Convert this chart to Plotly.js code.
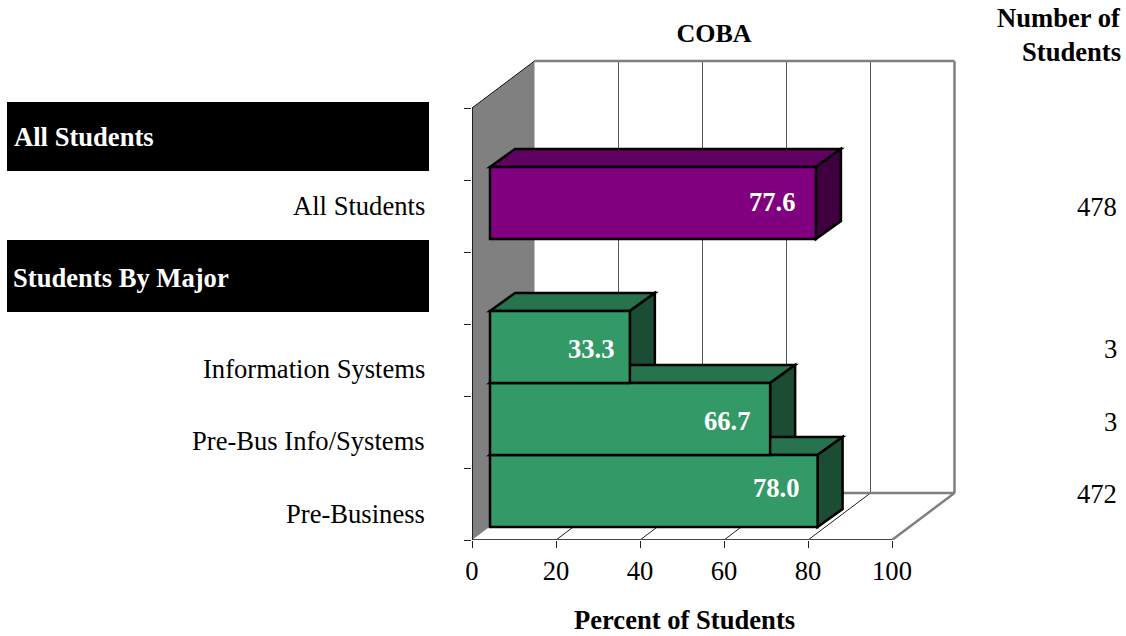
<!DOCTYPE html>
<html>
<head>
<meta charset="utf-8">
<script src="https://cdn.plot.ly/plotly-3.0.1.min.js"></script>
<style>html,body{margin:0;padding:0;background:#fff}#chart{width:1126px;height:636px}</style>
</head>
<body>
<div id="chart"></div>
<script>
// ---- data (rows run bottom to top; null = header row with no bar) ----
const rows = ["Pre-Business", "Pre-Bus Info/Systems", "Information Systems", "Students By Major", "All Students", "All Students"];
const percents = [78.0, 66.7, 33.3, null, 77.6, null];
const students = [472, 3, 3, null, 478, null];
const xTicks = [0, 20, 40, 60, 80, 100];

// ---- styles ----
const FONT = "Liberation Serif, Times New Roman, serif";
const SIZE = 26.6;
const GREEN = {front: "#339966", top: "#26734d", side: "#1a4d33"};
const PURPLE = {front: "#800080", top: "#600060", side: "#400040"};
const palette = [GREEN, GREEN, GREEN, null, PURPLE, null];

// ---- geometry ----
const W = 1126, H = 636;
const L = 472, R = 960, T = 55, B = 540;
const XU = 4.2, YU = 72;             // pixels per data unit
const xMax = (R - L) / XU, yMax = (B - T) / YU;
const wallDX = 62.5 / XU, wallDY = 47 / YU;  // whole chart depth
const barDX0 = 18 / XU, barDY0 = 13 / YU;    // bar offset from the front plane
const barDX = 25 / XU, barDY = 18 / YU;      // bar depth
const px = p => (p - L) / (R - L);
const py = p => (B - p) / (B - T);
const path = pts => "M" + pts.map(p => p[0] + "," + p[1]).join("L") + "Z";
const poly = (pts, fill, lineColor, lw) => ({type: "path", xref: "x", yref: "y", layer: "between", path: path(pts),
  fillcolor: fill, line: {color: lineColor || "rgba(0,0,0,0)", width: lw === undefined ? 0 : lw}});
const seg = (x0, y0, x1, y1, color, w) => ({type: "line", xref: "x", yref: "y", layer: "between", x0, y0, x1, y1, line: {color, width: w}});

const topY = rows.length;
const shapes = [];
// back wall, left wall, floor
shapes.push(poly([[wallDX, wallDY], [100 + wallDX, wallDY], [100 + wallDX, topY + wallDY], [wallDX, topY + wallDY]], "#ffffff"));
shapes.push(poly([[0, 0], [wallDX, wallDY], [wallDX, topY + wallDY], [0, topY]], "#808080"));
xTicks.slice(1, -1).forEach(t => {
  shapes.push(seg(t + wallDX, wallDY, t + wallDX, topY + wallDY, "#555555", 1));
  shapes.push(seg(t, 0, t + wallDX, wallDY, "#222222", 1));
});
shapes.push(seg(wallDX, wallDY, 100 + wallDX, wallDY, "#808080", 2.5));
shapes.push(seg(100 + wallDX, wallDY, 100 + wallDX, topY + wallDY, "#808080", 2.5));
shapes.push(seg(wallDX, topY + wallDY, 100 + wallDX, topY + wallDY, "#808080", 2.5));
shapes.push(seg(100, 0, 100 + wallDX, wallDY, "#808080", 2.5));
shapes.push(seg(0, 0, 100, 0, "#444444", 2));
shapes.push(seg(0, 0, 0, topY, "#222222", 2));
shapes.push(seg(0, topY, wallDX, topY + wallDY, "#111111", 1));

// top and side faces of each bar
const idx = rows.map((r, i) => i).filter(i => percents[i] !== null);
const yBase = i => i + barDY0;
idx.slice().reverse().forEach(i => {
  const x0 = barDX0, x1 = barDX0 + percents[i], y0 = yBase(i), y1 = yBase(i) + 1;
  const c = palette[i];
  shapes.push(poly([[x0, y1], [x0 + barDX, y1 + barDY], [x1 + barDX, y1 + barDY], [x1, y1]], c.top, "#000000", 2.5));
  shapes.push(poly([[x1, y0], [x1 + barDX, y0 + barDY], [x1 + barDX, y1 + barDY], [x1, y1]], c.side, "#000000", 2.5));
});

// ---- black header bands ----
shapes.push({type: "rect", xref: "paper", yref: "paper", x0: px(7), x1: px(429), y0: py(171), y1: py(102), fillcolor: "#000000", line: {width: 0}, layer: "above"});
shapes.push({type: "rect", xref: "paper", yref: "paper", x0: px(7), x1: px(429), y0: py(312), y1: py(240), fillcolor: "#000000", line: {width: 0}, layer: "above"});

// ---- text ----
const txt = (text, x, y, xanchor, opts) => Object.assign({text, xref: "paper", yref: "paper", x: px(x), y: py(y), xanchor, yanchor: "middle",
  showarrow: false, font: {family: FONT, size: SIZE, color: "#000000"}}, opts || {});
const catLabelPx = [514, 441, 369, null, 206, null];
const countPx = [494, 422, 349, null, 207, null];
const valueLabelYPx = [488, 421, 349, null, 202, null];
const valueLabelInset = [16, 17, 13, null, 18, null];
const annotations = [];
rows.forEach((r, i) => {
  if (percents[i] === null) return;
  annotations.push(txt(r, 427, catLabelPx[i], "right"));
  annotations.push(txt(String(students[i]), 1119, countPx[i], "right"));
  annotations.push({text: "<b>" + percents[i].toFixed(1) + "</b>", xref: "x", yref: "paper", x: barDX0 + percents[i], y: py(valueLabelYPx[i]),
    xshift: -valueLabelInset[i], xanchor: "right", yanchor: "middle", showarrow: false, font: {family: FONT, size: SIZE, color: "#ffffff"}});
});
const white = {font: {family: FONT, size: SIZE, color: "#ffffff"}};
annotations.push(txt("<b>" + rows[5] + "</b>", 12, 137, "left", white));
annotations.push(txt("<b>" + rows[3] + "</b>", 11, 278, "left", white));
annotations.push(txt("<b>Number of</b>", 1122.5, 18, "right"));
annotations.push(txt("<b>Students</b>", 1122.5, 52, "right"));
annotations.push(txt("<b>Percent of Students</b>", 684, 620, "center"));

const data = [{
  type: "bar", orientation: "h",
  x: idx.map(i => percents[i]),
  y: idx.map(i => yBase(i) + 0.5),
  base: barDX0, width: 1,
  marker: {color: idx.map(i => palette[i].front), line: {color: "#000000", width: 2.5}},
  hoverinfo: "skip", showlegend: false, cliponaxis: false
}];

const layout = {
  width: W, height: H,
  margin: {l: L, r: W - R, t: T, b: H - B, pad: 0},
  paper_bgcolor: "#ffffff", plot_bgcolor: "rgba(0,0,0,0)",
  font: {family: FONT, size: SIZE, color: "#000000"},
  title: {text: "<b>COBA</b>", x: 714 / W, xref: "container", xanchor: "center", y: 1 - 33 / H, yref: "container", yanchor: "middle", font: {family: FONT, size: 26, color: "#000000"}},
  showlegend: false, bargap: 0,
  xaxis: {range: [0, xMax], tickmode: "array", tickvals: xTicks, ticktext: xTicks.map(String), ticks: "outside", ticklen: 7, tickwidth: 1, tickcolor: "#222222",
    showgrid: false, zeroline: false, showline: false, tickfont: {family: FONT, size: SIZE, color: "#000000"}, fixedrange: true},
  yaxis: {range: [0, yMax], tickmode: "array", tickvals: rows.map((r, i) => i).concat([topY]), ticks: "outside", ticklen: 7, tickwidth: 1, tickcolor: "#222222",
    showgrid: false, zeroline: false, showline: false, showticklabels: false, fixedrange: true},
  shapes, annotations
};
Plotly.newPlot("chart", data, layout, {displayModeBar: false, staticPlot: true});
</script>
</body>
</html>
